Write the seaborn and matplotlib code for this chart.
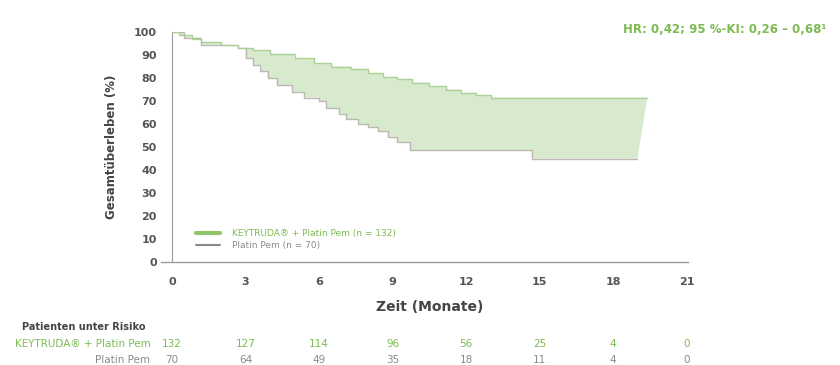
import numpy as np
import matplotlib
matplotlib.use("Agg")
import matplotlib.pyplot as plt
import seaborn as sns
from matplotlib.lines import Line2D

# Kaplan-Meier step estimates (months, % survival)
pembro_t = [0, 0.3, 0.8, 1.2, 2.0, 2.7, 3.3, 4.0, 5.0, 5.8, 6.5, 7.3, 8.0, 8.6,
            9.2, 9.8, 10.5, 11.2, 11.8, 12.4, 13.0, 19.4]
pembro_s = [100, 98.5, 97, 95.5, 94.5, 93, 92, 90.5, 88.5, 86.5, 85, 84, 82, 80.5,
            79.5, 78, 76.5, 75, 73.5, 72.5, 71.5, 71.5]

chemo_t = [0, 0.5, 1.2, 2.7, 3.0, 3.3, 3.6, 3.9, 4.3, 4.9, 5.4, 6.0, 6.3, 6.8,
           7.1, 7.6, 8.0, 8.4, 8.8, 9.2, 9.7, 14.7, 19.0]
chemo_s = [100, 97.5, 94.5, 93, 88.5, 85.5, 83, 80, 77, 74, 71.5, 70, 67, 64.5,
           62, 60, 58.5, 57, 54.5, 52, 48.5, 45, 45]

# Numbers at risk
risk_months = [0, 3, 6, 9, 12, 15, 18, 21]
risk_pembro = [132, 127, 114, 96, 56, 25, 4, 0]
risk_chemo = [70, 64, 49, 35, 18, 11, 4, 0]

x_ticks = [0, 3, 6, 9, 12, 15, 18, 21]
y_ticks = list(range(0, 101, 10))

label_pembro = "KEYTRUDA® + Platin Pem (n = 132)"
label_chemo = "Platin Pem (n = 70)"
row_pembro = "KEYTRUDA® + Platin Pem"
row_chemo = "Platin Pem"
hr_text = "HR: 0,42; 95 %-KI: 0,26 – 0,68¹"

GREEN = "#8cc46a"
GREEN_TXT = "#7cbb52"
FILL = "#d7eacd"
GRAY = "#bdb8b3"
AXIS = "#9a9a9a"
DARK = "#555555"

sns.set_theme(style="white")
plt.rcParams["font.family"] = ["Liberation Sans Narrow", "DejaVu Sans"]


def steps(t, s):
    xs, ys = [t[0]], [s[0]]
    for i in range(1, len(t)):
        xs += [t[i], t[i]]
        ys += [s[i - 1], s[i]]
    return np.array(xs), np.array(ys)


fig = plt.figure(figsize=(8.4, 3.65), dpi=100)
ax = fig.add_axes([0.1917, 0.2822, 0.627, 0.630])

# Spine placement first: repositioning a spine rebuilds its ticks
for side in ["top", "right"]:
    ax.spines[side].set_visible(False)
ax.spines["left"].set_position(("data", 0))
ax.spines["left"].set_color(AXIS)
ax.spines["left"].set_linewidth(0.8)
ax.spines["bottom"].set_color(AXIS)
ax.spines["bottom"].set_linewidth(1.0)

ux, uy = steps(pembro_t, pembro_s)
lx, ly = steps(chemo_t, chemo_s)
ax.fill(np.concatenate([ux, lx[::-1]]), np.concatenate([uy, ly[::-1]]),
        color=FILL, lw=0, zorder=1)

sns.lineplot(x=pembro_t, y=pembro_s, drawstyle="steps-post", color="#acd197",
             lw=1.0, ax=ax, zorder=3)
sns.lineplot(x=chemo_t, y=chemo_s, drawstyle="steps-post", color=GRAY,
             lw=1.0, ax=ax, zorder=2)

ax.set_xlim(-0.45, 21.05)
ax.set_ylim(0, 100)
ax.set_xlabel("")
ax.set_ylabel("")
ax.set_xticks(x_ticks)
ax.set_yticks(y_ticks)
ax.tick_params(axis="both", direction="out", length=5, width=0.8, color=AXIS,
               pad=6, labelsize=8, labelcolor=DARK)
ax.set_xticklabels([str(v) for v in x_ticks], fontsize=8, fontweight="bold", color=DARK)
ax.set_yticklabels([str(v) for v in y_ticks], fontsize=8, fontweight="bold", color=DARK)

fig.text(0.133, 0.597, "Gesamtüberleben (%)", rotation=90, ha="center", va="center",
         fontsize=8.5, fontweight="bold", color="#444444")
fig.text(0.512, 0.159, "Zeit (Monate)", ha="center", va="center",
         fontsize=10, fontweight="bold", color="#444444")

handles = [Line2D([], [], color=GREEN, lw=3), Line2D([], [], color="#8a8a8a", lw=1.5)]
leg = ax.legend(handles, [label_pembro, label_chemo], loc="upper left",
                bbox_to_anchor=(0.228, 0.385), bbox_transform=fig.transFigure,
                frameon=False, fontsize=6.5, handlelength=2.6, handletextpad=1.4,
                labelspacing=0.3, borderpad=0)
leg.get_texts()[0].set_color(GREEN_TXT)
leg.get_texts()[1].set_color("#8a8a8a")

fig.text(0.863, 0.918, hr_text, ha="center", va="center", fontsize=8.5,
         color=GREEN_TXT, fontweight="bold")

# Patients at risk table
trans = matplotlib.transforms.blended_transform_factory(ax.transData, fig.transFigure)
fig.text(0.173, 0.104, "Patienten unter Risiko", ha="right", va="center",
         fontsize=7, fontweight="bold", color="#444444")
fig.text(0.179, 0.0575, row_pembro, ha="right", va="center", fontsize=7.5, color=GREEN_TXT)
fig.text(0.179, 0.0137, row_chemo, ha="right", va="center", fontsize=7.5, color="#8a8a8a")
for m, a, b in zip(risk_months, risk_pembro, risk_chemo):
    ax.text(m, 0.0575, str(a), transform=trans, ha="center", va="center",
            fontsize=7.5, color=GREEN_TXT, clip_on=False)
    ax.text(m, 0.0137, str(b), transform=trans, ha="center", va="center",
            fontsize=7.5, color="#8a8a8a", clip_on=False)

fig.savefig("out.png", dpi=100, facecolor="white")
